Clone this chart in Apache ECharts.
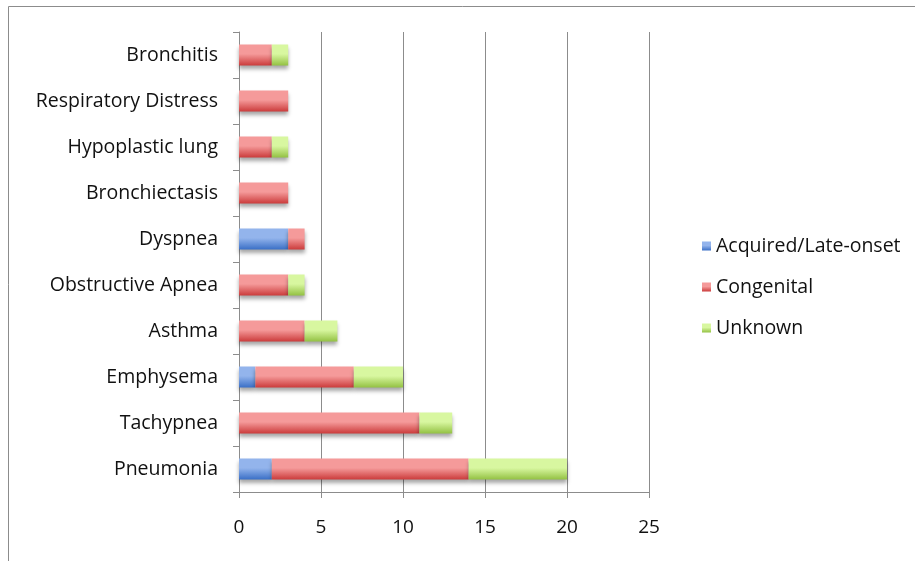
<!DOCTYPE html>
<html>
<head>
<meta charset="utf-8">
<script src="https://cdn.jsdelivr.net/npm/echarts@6/dist/echarts.min.js"></script>
<style>
  html, body { margin: 0; padding: 0; background: #fff; }
  #chart { width: 915px; height: 561px; }
</style>
</head>
<body>
<div id="chart"></div>
<script>
// categories listed bottom to top
var categories = ["Pneumonia", "Tachypnea", "Emphysema", "Asthma", "Obstructive Apnea",
  "Dyspnea", "Bronchiectasis", "Hypoplastic lung", "Respiratory Distress", "Bronchitis"];
var acquired = [2, 0, 1, 0, 0, 3, 0, 0, 0, 0];
var congenital = [12, 11, 6, 4, 3, 1, 3, 2, 3, 2];
var unknown = [6, 2, 3, 2, 1, 0, 0, 1, 0, 1];
var seriesNames = ["Acquired/Late-onset", "Congenital", "Unknown"];

var font = "'Open Sans', Lato, sans-serif";

function grad(top, bottom) {
  return new echarts.graphic.LinearGradient(0, 0, 0, 1, [
    { offset: 0, color: top },
    { offset: 0.45, color: top },
    { offset: 1, color: bottom }
  ]);
}

var colors = [
  ["#93b4ec", "#3a6fc6"],
  ["#f59a9a", "#cb3b3b"],
  ["#d8f7a0", "#93c143"]
];

function makeSeries(name, data, i) {
  return {
    name: name,
    type: "bar",
    stack: "total",
    data: data,
    barWidth: 21,
    itemStyle: {
      color: grad(colors[i][0], colors[i][1]),
      shadowColor: "rgba(0,0,0,0.35)",
      shadowBlur: 4,
      shadowOffsetY: 3
    }
  };
}

var chart = echarts.init(document.getElementById("chart"));
chart.setOption({
  animation: false,
  color: [colors[0][1], colors[1][1], colors[2][1]],
  graphic: [{
    type: "rect",
    shape: { x: 8.5, y: 6.5, width: 920, height: 570 },
    style: { fill: "none", stroke: "#8c8c8c", lineWidth: 1 }
  }],
  grid: { left: 239, right: 266, top: 32, bottom: 69 },
  legend: {
    orient: "vertical",
    left: 697,
    top: 229,
    itemWidth: 9,
    itemHeight: 9,
    itemGap: 17,
    icon: "rect",
    textStyle: { fontFamily: font, fontSize: 19.5, lineHeight: 24, color: "#111", padding: [0, 0, 0, 0] },
    data: seriesNames
  },
  xAxis: {
    type: "value",
    min: 0,
    max: 25,
    interval: 5,
    axisLine: { show: true, lineStyle: { color: "#8c8c8c" } },
    axisTick: { show: true, length: 6, lineStyle: { color: "#8c8c8c" } },
    axisLabel: { fontFamily: font, fontSize: 19, color: "#111", margin: 26 },
    splitLine: { show: true, lineStyle: { color: "#8c8c8c" } }
  },
  yAxis: {
    type: "category",
    data: categories,
    axisLine: { show: true, lineStyle: { color: "#8c8c8c" } },
    axisTick: { show: true, length: 6, lineStyle: { color: "#8c8c8c" } },
    axisLabel: { fontFamily: font, fontSize: 19.5, color: "#111", margin: 21 }
  },
  series: [
    makeSeries(seriesNames[0], acquired, 0),
    makeSeries(seriesNames[1], congenital, 1),
    makeSeries(seriesNames[2], unknown, 2)
  ]
});
</script>
</body>
</html>
